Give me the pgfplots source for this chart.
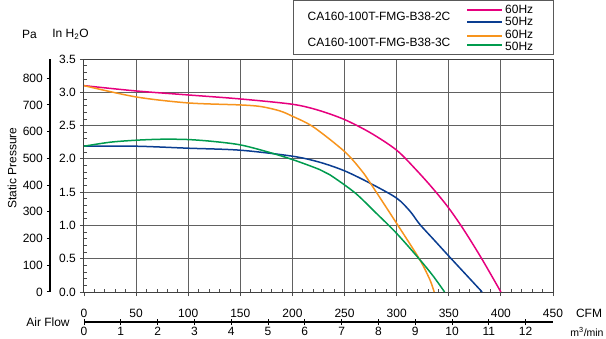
\documentclass[border=0pt]{standalone}
\usepackage{pgfplots}
\pgfplotsset{compat=1.18}
\usepackage{fontspec}
\setmainfont{Liberation Sans}
\definecolor{cpink}{HTML}{E6007E}
\definecolor{cblue}{HTML}{0A3D91}
\definecolor{corange}{HTML}{F7941D}
\definecolor{cgreen}{HTML}{009B4E}
\begin{document}
\fontsize{12}{14}\selectfont
\begin{tikzpicture}
% main axis
\begin{axis}[
  at={(84pt,46pt)}, anchor=south west, scale only axis,
  width=469pt, height=233pt,
  xmin=0, xmax=450, ymin=0, ymax=3.5,
  xtick={0,50,...,450}, xticklabels={},
  ytick={0,0.5,1,1.5,2,2.5,3,3.5},
  minor x tick num=4, minor y tick num=4,
  grid=major, major grid style={line width=1pt, color=black!62},
  axis line style={line width=1pt, black!75},
  tick pos=left, tick align=outside, major tick length=4pt, minor tick length=-3pt,
  tick style={black!70, line width=0.8pt},
  /pgf/number format/assume math mode=true,
  yticklabel style={/pgf/number format/.cd, fixed, fixed zerofill, precision=1},
]
\addplot[cpink, line width=1.5pt, smooth] coordinates {
(0,3.10) (50,3.02) (100,2.96) (150,2.90) (200,2.82) (225,2.73) (250,2.59) (275,2.39)
(300,2.13) (319,1.83) (335,1.55) (350,1.26) (365,0.92) (382,0.49) (400,0)};
\addplot[cblue, line width=1.5pt, smooth] coordinates {
(0,2.19) (50,2.19) (100,2.16) (150,2.13) (200,2.04) (226,1.95) (250,1.82) (275,1.63)
(300,1.41) (313,1.21) (322,1.02) (336,0.78) (350,0.54) (366,0.27) (382,0)};
\addplot[corange, line width=1.5pt, smooth] coordinates {
(0,3.10) (50,2.93) (100,2.84) (150,2.81) (170,2.785) (188,2.72) (200,2.64) (220,2.48) (250,2.11)
(266,1.83) (275,1.63) (300,1.03) (322,0.49) (332,0.18) (336,0)};
\addplot[cgreen, line width=1.5pt, smooth] coordinates {
(0,2.19) (25,2.25) (50,2.28) (75,2.295) (100,2.29) (125,2.26) (150,2.21) (175,2.11)
(200,1.99) (226,1.84) (236,1.76) (260,1.49) (280,1.19) (300,0.88) (322,0.49) (335,0.24) (346,0)};
\end{axis}
% Pa axis
\begin{axis}[
  at={(50pt,46pt)}, anchor=south west, scale only axis,
  width=20pt, height=233pt,
  xmin=0, xmax=1, ymin=0, ymax=871.8,
  hide x axis, axis y line*=left,
  ytick={0,100,...,800},
  tick align=outside, major tick length=3pt,
  axis line style={-, line width=1.4pt, black},
  tick style={black, line width=1pt},
  /pgf/number format/assume math mode=true,
]
\end{axis}
% m3/min axis
\begin{axis}[
  at={(84pt,16pt)}, anchor=south west, scale only axis,
  width=469pt, height=10pt,
  xmin=0, xmax=12.7426, ymin=0, ymax=1,
  axis x line*=bottom, hide y axis,
  xtick={0,1,...,12},
  tick align=center, major tick length=6pt,
  axis line style={-, line width=1.3pt, black},
  tick style={black, line width=1pt},
  xticklabel style={yshift=2pt},
  /pgf/number format/assume math mode=true,
]
\end{axis}
% CFM axis
\begin{axis}[
  at={(84pt,16pt)}, anchor=north west, scale only axis,
  width=469pt, height=10pt,
  xmin=0, xmax=450, ymin=0, ymax=1,
  axis x line*=top, hide y axis,
  xtick={0,50,...,450}, major tick length=0pt,
  axis line style={draw=none},
  /pgf/number format/assume math mode=true,
]
\end{axis}
% labels
\node at (29.5pt,304pt) {Pa};
\node at (70.5pt,304pt) {In H\textsubscript{2}O};
\node[rotate=90] at (12pt,170pt) {Static Pressure};
\node at (48pt,16pt) {Air Flow};
\node at (589pt,25pt) {CFM};
\node[font=\fontsize{10.5}{12}\selectfont, inner sep=1pt] at (587pt,6.5pt) {m\textsuperscript{3}/min};
% legend
\draw[black!65, line width=0.8pt] (293pt,284pt) rectangle (553pt,337.6pt);
\node at (379pt,322pt) {CA160-100T-FMG-B38-2C};
\node at (379pt,296pt) {CA160-100T-FMG-B38-3C};
\draw[cpink, line width=1.5pt] (467pt,328pt) -- (502pt,328pt);
\draw[cblue, line width=1.5pt] (467pt,316pt) -- (502pt,316pt);
\draw[corange, line width=1.5pt] (467pt,302pt) -- (502pt,302pt);
\draw[cgreen, line width=1.5pt] (467pt,293pt) -- (502pt,293pt);
\node[anchor=west, inner sep=0pt] at (505pt,329pt) {60Hz};
\node[anchor=west, inner sep=0pt] at (505pt,316.5pt) {50Hz};
\node[anchor=west, inner sep=0pt] at (505pt,303.5pt) {60Hz};
\node[anchor=west, inner sep=0pt] at (505pt,291.5pt) {50Hz};
\pgfresetboundingbox
\path[use as bounding box] (0pt,0pt) rectangle (606pt,338pt);
\end{tikzpicture}
\end{document}
